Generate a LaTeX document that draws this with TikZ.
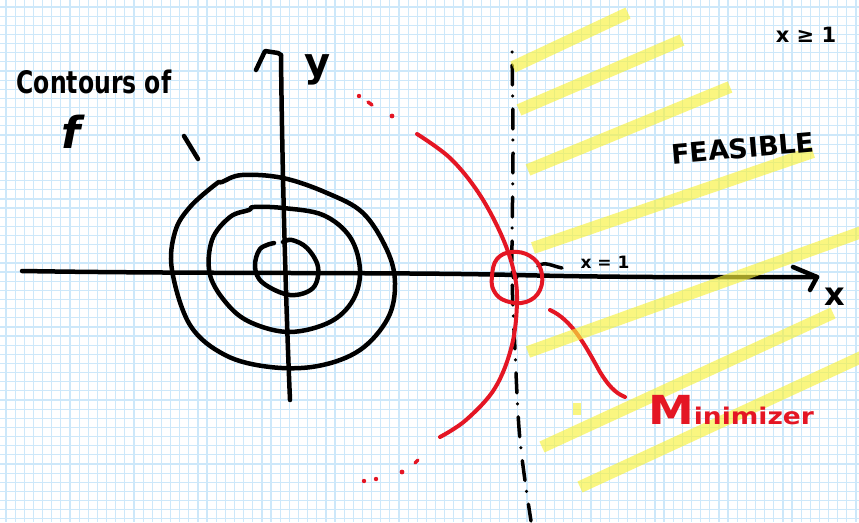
\documentclass[tikz,border=0pt]{standalone}
\usepackage{fontspec}
\setmainfont{DejaVu Sans}
\definecolor{gridblue}{RGB}{205,232,250}
\definecolor{hlyellow}{RGB}{248,242,60}
\definecolor{penred}{RGB}{228,22,36}
\tikzset{
  ink/.style={line width=4.5pt, line cap=round, line join=round, black},
  redink/.style={line width=4pt, line cap=round, line join=round, penred},
  hl/.style={line width=12pt, hlyellow, opacity=0.65, line cap=butt},
  gridline/.style={gridblue, line width=1.2pt},
  lbl/.style={inner sep=0pt, text=black, font=\bfseries},
}
\begin{document}
\begin{tikzpicture}[x=1pt,y=-1pt]
\useasboundingbox (0,0) rectangle (859,522);
\fill[white] (0,0) rectangle (859,522);
% grid paper
\foreach \i in {0,...,93} { \draw[gridline] ({6+9.14*\i},0) -- ({6+9.14*\i},522); }
\foreach \i in {0,...,56} { \draw[gridline] (0,{7+9.14*\i}) -- (859,{7+9.14*\i}); }

% coordinates
\coordinate (xstart) at (22,271);
\coordinate (xtip) at (817,277);
\coordinate (ybot) at (290,400);
\coordinate (ytop) at (281,55);
\coordinate (minpt) at (515,276);

% axes
\draw[ink] (xstart) .. controls (200,274) and (400,272) .. (515,275) .. controls (640,278) and (740,277) .. (xtip);
\draw[ink] (793,267) -- (xtip) -- (810,290);
\draw[ink] (ybot) .. controls (286,310) and (282,160) .. (ytop);
\draw[ink] (256,70) -- (265,51) -- (278,53) -- (ytop);

% contours of f
\draw[ink] plot[smooth cycle, tension=0.6] coordinates {
  (172,270) (175,232) (190,207) (216,184) (222,182) (242,175) (283,178)
  (327,193) (363,213) (387,250) (395,283) (388,318) (360,350) (318,366)
  (270,367) (225,355) (190,325)};
\draw[ink] plot[smooth cycle, tension=0.6] coordinates {
  (210,275) (212,240) (230,217) (249,210) (254,207) (283,208) (323,215)
  (350,237) (360,270) (353,300) (330,322) (290,332) (252,323) (228,305)};
\draw[ink] plot[smooth, tension=0.6] coordinates {
  (274,243) (260,249) (255,267) (263,283) (290,295) (313,288) (318,267)
  (307,248) (292,240) (283,242)};
\draw[ink] (184,136) -- (198,159);

% constraint x = 1 (dashed)
\draw[black, line width=3.5pt, line cap=round, dash pattern={on 0pt off 13pt on 20pt off 11pt}]
  plot[smooth, tension=0.6] coordinates {(512,52) (513,150) (512,270) (515,350) (520,440) (531,521)};
\fill[black] (minpt) circle (4);
\draw[ink, line width=3.5pt] (538,266) .. controls (545,261) and (552,266) .. (562,268);

% red level curve through minimizer
\draw[redink] plot[smooth, tension=0.6] coordinates {
  (417,134) (450,158) (478,192) (500,232) (513,268) (517,300) (512,345)
  (495,388) (466,420) (440,437)};
\fill[penred] (359,96) circle (2.2);
\draw[redink, line width=3.5pt] (368,102) -- (372,105);
\fill[penred] (392,116) circle (2.4);
\fill[penred] (364,481) circle (2.2);
\fill[penred] (376,479) circle (2.2);
\fill[penred] (402,472) circle (2.4);
\draw[redink, line width=3.5pt] (415,463) -- (418,460);
% circle around minimizer
\draw[redink] plot[smooth cycle, tension=0.7] coordinates {
  (492,276) (497,259) (512,252) (530,256) (541,270) (540,290) (526,302) (506,301) (494,291)};
% pointer to label
\draw[redink] (550,310) .. controls (572,320) and (585,345) .. (600,372) .. controls (608,385) and (615,393) .. (625,397);

% feasible region highlighter
\draw[hl] (513,67) -- (628,13);
\draw[hl] (519,110) -- (682,40);
\draw[hl] (528,170) -- (730,87);
\draw[hl] (533,248) -- (813,152);
\draw[hl] (528,352) -- (870,229);
\draw[hl] (542,447) -- (833,313);
\draw[hl, line width=8pt] (577,403) -- (577,415);
\draw[hl] (580,487) -- (870,353);

% labels
\node[lbl] (contours) at (94,82) {\scalebox{0.76}[1]{\fontsize{31}{31}\selectfont Contours of}};
\node[lbl] (fname) at (71,132) {\fontsize{44}{44}\selectfont\itshape f};
\node[lbl] (ylab) at (318,70) {\fontsize{40}{40}\selectfont y};
\node[lbl] (xlab) at (835,297) {\fontsize{32}{32}\selectfont x};
\node[lbl] (xeq) at (605,262) {\fontsize{17}{17}\selectfont x = 1};
\node[lbl] (xgeq) at (806,35) {\fontsize{21}{21}\selectfont x ≥ 1};
\node[lbl, rotate=5] (feas) at (743,148) {\scalebox{1.0}[1]{\fontsize{27}{27}\selectfont FEASIBLE}};
\node[lbl, text=penred] (minlab) at (731,410) {\scalebox{1.15}[1]{{\fontsize{40}{40}\selectfont M}{\fontsize{23}{23}\selectfont inimizer}}};
\end{tikzpicture}
\end{document}
